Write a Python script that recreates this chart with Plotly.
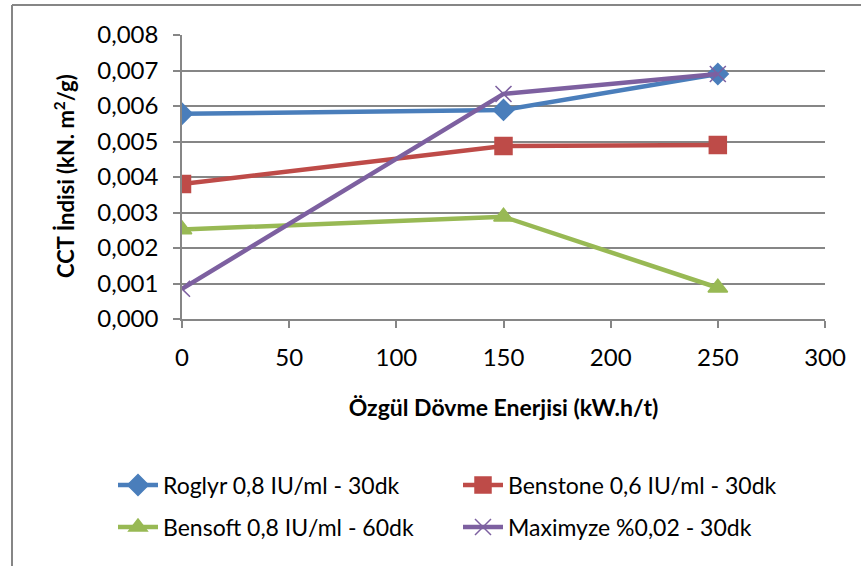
import plotly.graph_objects as go

energy = [0, 150, 250]
roglyr = [0.00578, 0.00589, 0.00690]
benstone = [0.00380, 0.00487, 0.00490]
bensoft = [0.00252, 0.00288, 0.00088]
maximyze = [0.00085, 0.00634, 0.00690]

names = ["Roglyr 0,8 IU/ml - 30dk", "Benstone 0,6 IU/ml - 30dk",
         "Bensoft 0,8 IU/ml - 60dk", "Maximyze %0,02 - 30dk"]
series = [roglyr, benstone, bensoft, maximyze]
colors = ["#4A7EBB", "#BE4B48", "#98B954", "#7D60A0"]
symbols = ["diamond", "square", "triangle-up", "x-thin"]
sizes = [16, 17, 17, 16]
legend_ids = ["legend", "legend", "legend2", "legend2"]

W, H = 861, 566
L, R, T, B = 182, 36, 35, 247
pw, ph = W - L - R, H - T - B

fig = go.Figure()
for n, s, c, sym, sz, lg in zip(names, series, colors, symbols, sizes, legend_ids):
    fig.add_trace(go.Scatter(
        x=energy, y=s, name=n, mode="lines+markers", legend=lg,
        line=dict(color=c, width=4.5),
        marker=dict(symbol=sym, size=sz, color=c,
                    line=dict(color=c, width=1.5)),
    ))

font = "Lato, 'Open Sans', sans-serif"


def px_x(px):
    return (px - L) / pw


def px_y(py):
    return (H - B - py) / ph


leg_common = dict(orientation="h", xanchor="left", yanchor="middle",
                  entrywidth=290, entrywidthmode="pixels",
                  font=dict(size=23), itemwidth=40, bgcolor="rgba(0,0,0,0)")
fig.update_layout(
    width=W, height=H,
    margin=dict(l=L, r=R, t=T, b=B),
    paper_bgcolor="white", plot_bgcolor="white",
    font=dict(family=font, size=24, color="black"),
    showlegend=True,
    legend=dict(x=px_x(113), y=px_y(485), **leg_common),
    legend2=dict(x=px_x(113), y=px_y(527), **leg_common),
    xaxis=dict(range=[0, 300], dtick=50, showgrid=False,
               showline=True, linecolor="#868686", linewidth=1.5,
               ticks="outside", ticklen=7, tickcolor="#868686", tickwidth=1.5,
               ticklabelstandoff=9, zeroline=False,
               tickfont=dict(size=24),
               title=dict(text="<b>Özgül Dövme Enerjisi (kW.h/t)</b>",
                          font=dict(size=23), standoff=30)),
    yaxis=dict(range=[0, 0.008], dtick=0.001, tickformat=".3f",
               showgrid=True, gridcolor="#868686", gridwidth=1.5,
               showline=True, linecolor="#868686", linewidth=1.5,
               ticks="outside", ticklen=7, tickcolor="#868686", tickwidth=1.5,
               ticklabelstandoff=10, zeroline=False,
               tickfont=dict(size=24)),
    separators=",.",
)
fig.add_annotation(text="<b>CCT İndisi (kN. m<sup>2</sup>/g)</b>",
                   xref="paper", yref="paper", x=px_x(64), y=px_y(176),
                   xanchor="center", yanchor="middle", textangle=-90,
                   showarrow=False, font=dict(size=22, family=font))
# outer chart border (top and left edges visible)
fig.add_shape(type="line", xref="paper", yref="paper",
              x0=px_x(12), x1=px_x(W), y0=px_y(5), y1=px_y(5),
              line=dict(color="#868686", width=2))
fig.add_shape(type="line", xref="paper", yref="paper",
              x0=px_x(12), x1=px_x(12), y0=px_y(5), y1=px_y(H),
              line=dict(color="#868686", width=2))

fig.write_html("out.html")
